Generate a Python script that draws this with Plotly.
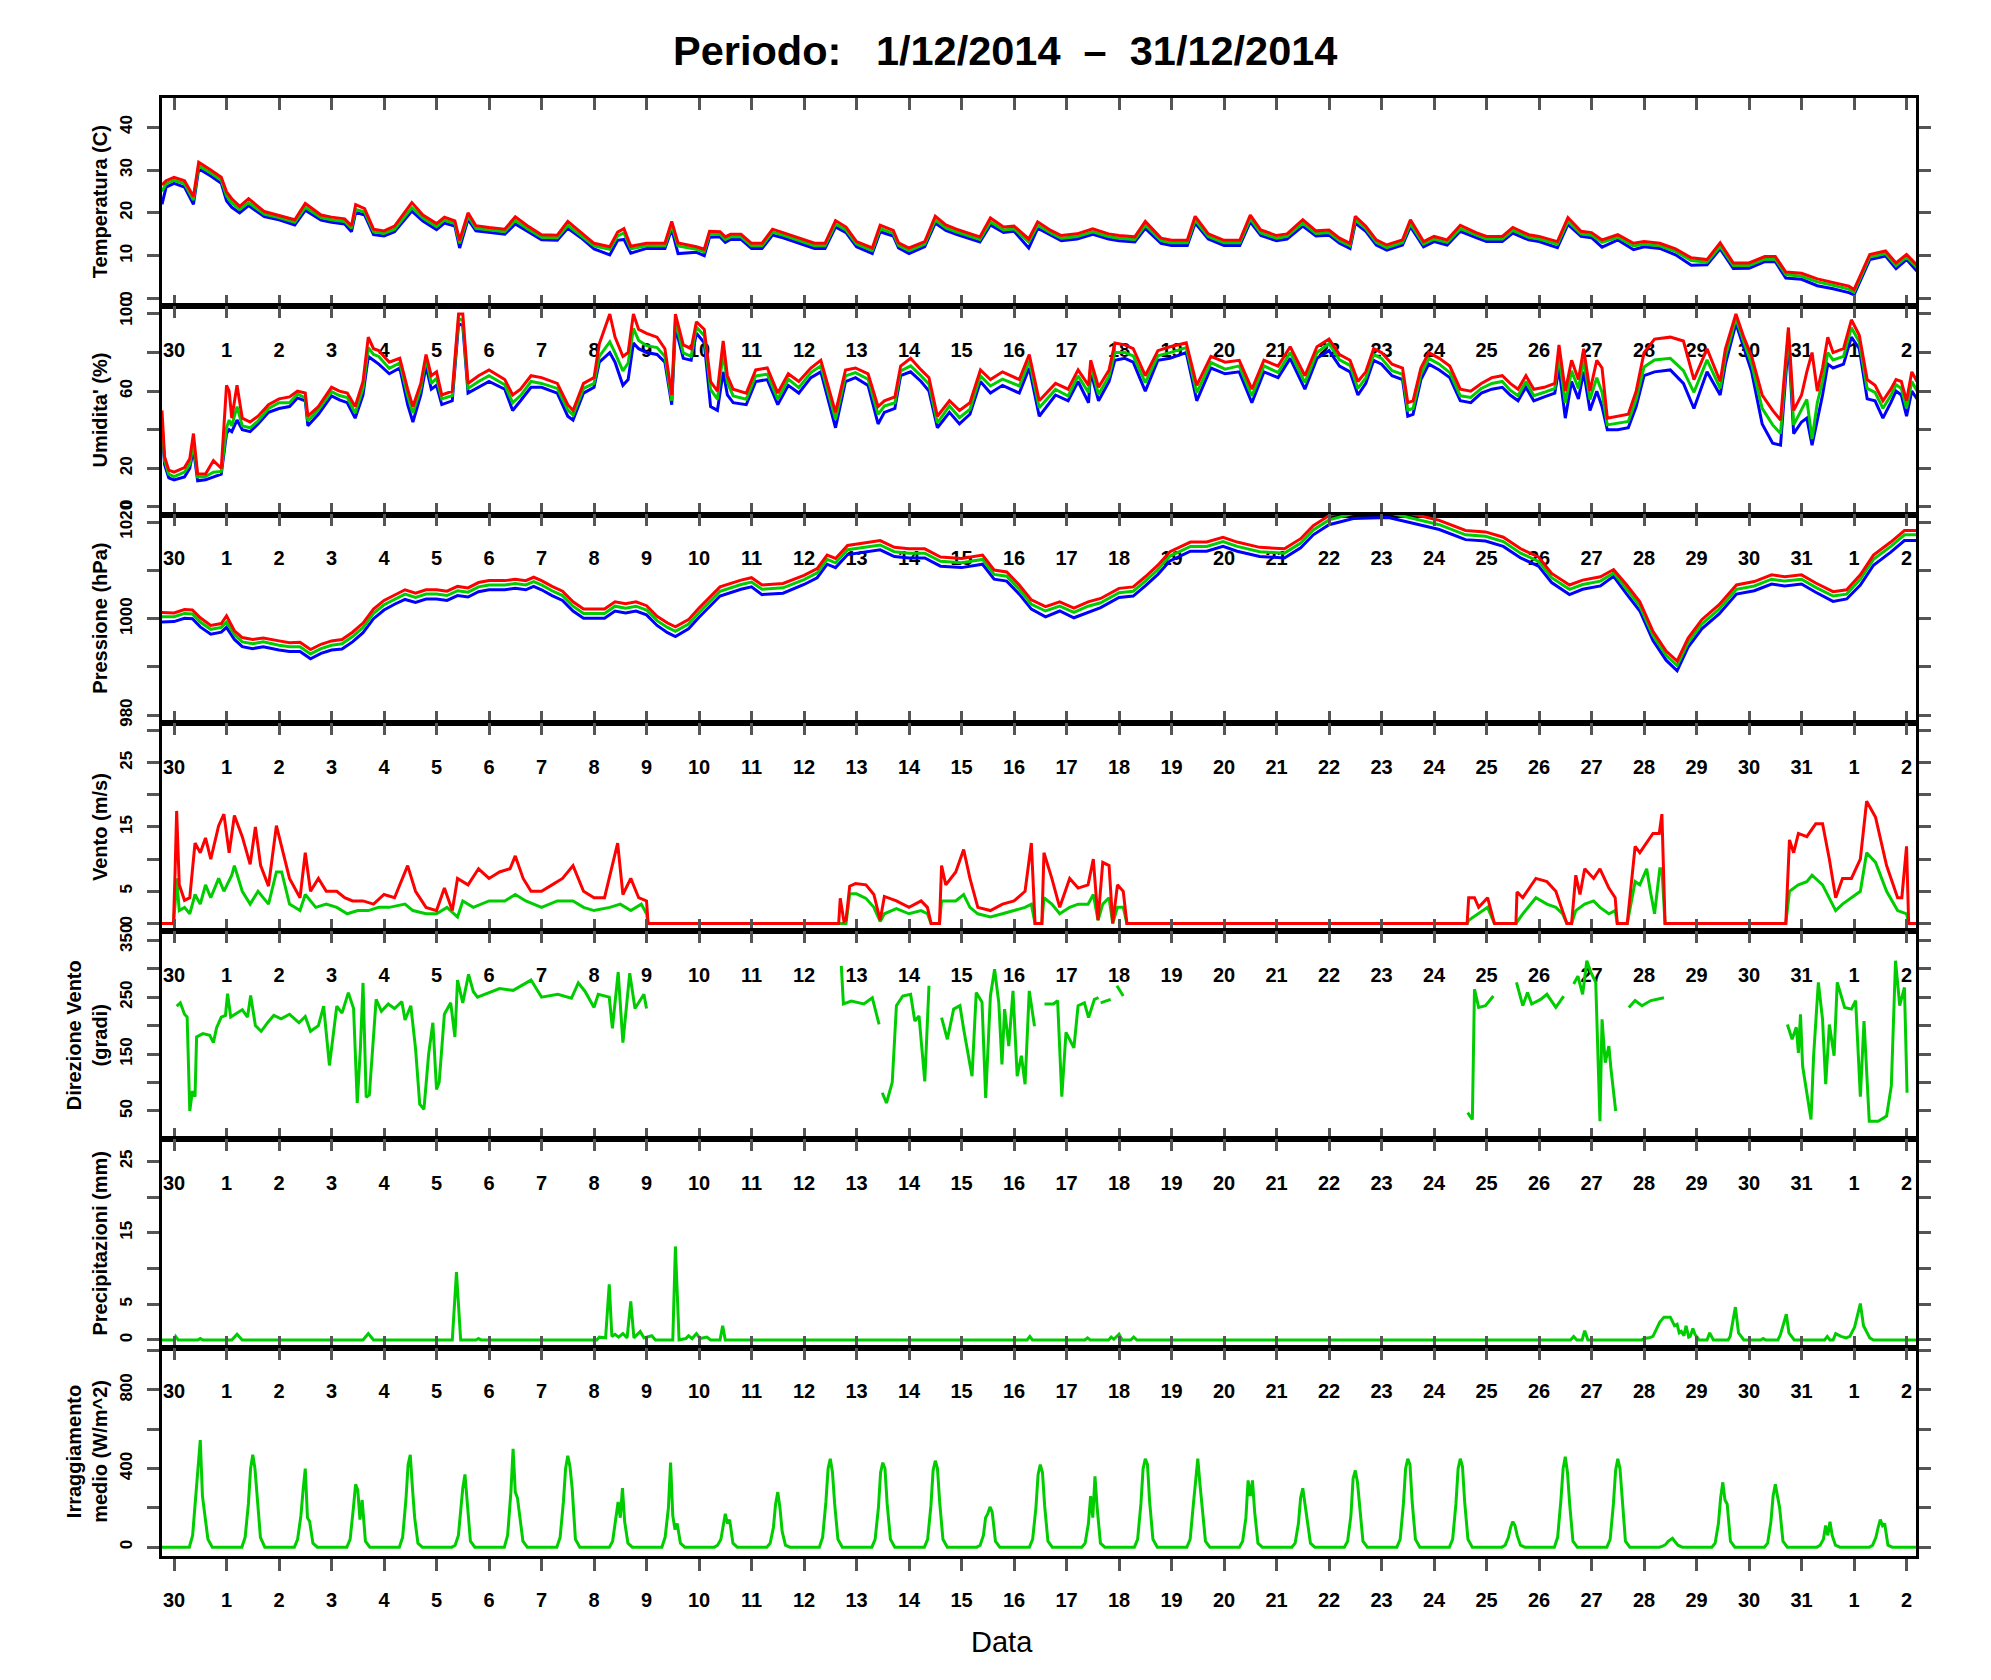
import plotly.graph_objects as go

# ---------------- data ----------------
# x is in days from 30 Nov 00:00 (tick "30"); ticks are day boundaries
day_ticks = list(range(34))
day_labels = ["30"] + [str(d) for d in range(1, 32)] + ["1", "2"]

temp_t = [-0.23,-0.15,0.0,0.2,0.37,0.47,0.7,0.9,1.0,1.1,1.25,1.42,1.72,2.0,2.3,2.5,2.8,3.0,3.25,3.38,3.46,3.63,3.8,4.0,4.2,4.53,4.74,5.0,5.15,5.35,5.44,5.6,5.75,6.0,6.3,6.5,6.73,7.0,7.3,7.5,7.75,8.0,8.3,8.45,8.57,8.7,9.0,9.35,9.48,9.6,9.95,10.1,10.2,10.4,10.5,10.6,10.8,11.0,11.2,11.4,11.6,11.9,12.2,12.4,12.6,12.8,13.0,13.3,13.45,13.7,13.8,14.0,14.3,14.5,14.7,14.9,15.2,15.35,15.55,15.8,16.0,16.28,16.45,16.7,16.9,17.2,17.5,17.8,18.0,18.3,18.5,18.8,19.0,19.3,19.45,19.7,20.0,20.3,20.5,20.7,21.0,21.2,21.5,21.75,22.0,22.2,22.4,22.5,22.7,22.9,23.1,23.4,23.55,23.8,24.0,24.25,24.5,24.8,25.0,25.3,25.5,25.8,26.0,26.35,26.55,26.8,27.0,27.2,27.5,27.8,28.0,28.3,28.6,28.9,29.2,29.45,29.7,30.0,30.3,30.5,30.7,31.0,31.3,31.6,31.9,32.0,32.2,32.3,32.6,32.8,33.0,33.2]
temp_g = [25.0,26.8,27.6,26.8,23.0,31.0,29.3,27.6,24.0,22.3,20.8,22.4,19.7,18.9,17.8,21.3,18.9,18.4,18.0,16.4,20.8,20.2,15.6,15.2,16.2,21.2,18.8,16.8,18.3,17.5,12.9,19.2,16.4,16.0,15.6,18.2,16.3,14.3,14.2,17.1,14.8,12.3,11.5,14.6,15.3,11.6,12.3,12.3,17.0,12.3,11.5,10.9,15.0,15.0,13.8,14.4,14.4,12.3,12.3,15.5,14.8,13.5,12.3,12.3,17.4,16.0,12.7,11.2,16.3,15.2,12.4,11.2,12.7,18.3,16.5,15.6,14.5,13.8,17.9,16.0,16.3,13.2,17.1,15.3,14.1,14.5,15.6,14.5,14.1,13.8,17.1,13.5,13.0,13.0,18.3,14.5,13.0,13.0,18.6,15.3,14.1,14.5,17.6,15.2,15.4,13.5,12.3,18.3,16.3,13.1,11.9,13.1,17.5,12.7,13.9,13.1,16.3,14.8,13.9,13.9,15.9,14.3,13.9,12.7,18.0,15.1,14.8,13.1,14.3,12.3,12.7,12.3,11.0,8.9,8.5,12.2,7.7,7.7,9.2,9.2,5.6,5.2,3.9,3.1,2.2,1.5,7.2,9.7,10.5,7.7,9.7,7.2]
temp_r = [26.5,27.5,28.3,27.5,23.8,31.8,30.0,28.3,24.9,23.3,21.5,23.3,20.3,19.4,18.4,22.2,19.5,19.0,18.6,17.0,21.9,21.0,16.2,15.8,16.9,22.4,19.5,17.5,19.0,18.1,13.6,20.0,17.0,16.6,16.2,19.1,17.0,14.9,14.8,18.0,15.4,12.9,12.1,15.5,16.3,12.2,12.9,12.9,18.0,13.0,12.1,11.5,15.7,15.6,14.4,15.0,15.0,12.9,12.9,16.2,15.4,14.1,12.9,12.9,18.2,16.7,13.3,11.8,17.1,15.9,13.0,11.8,13.3,19.2,17.2,16.2,15.1,14.4,18.8,16.7,16.9,13.9,17.9,15.9,14.7,15.1,16.3,15.1,14.7,14.4,18.0,14.1,13.6,13.6,19.2,15.1,13.6,13.6,19.5,16.0,14.7,15.1,18.4,15.8,16.0,14.1,12.9,19.2,16.9,13.7,12.5,13.7,18.4,13.3,14.5,13.7,17.1,15.4,14.5,14.5,16.6,14.9,14.5,13.3,18.9,15.7,15.4,13.7,14.9,12.9,13.3,12.9,11.6,9.5,9.1,13.0,8.3,8.3,9.8,9.8,6.2,5.9,4.6,3.8,2.9,2.1,7.8,10.3,11.1,8.3,10.3,7.8]
temp_b = [22.0,26.0,26.9,26.0,22.0,30.3,28.6,26.9,22.8,21.3,20.0,21.7,19.1,18.4,17.2,20.6,18.3,17.8,17.4,15.6,20.1,19.5,14.9,14.6,15.6,20.4,18.1,16.1,17.6,16.9,11.8,18.5,15.8,15.4,15.0,17.4,15.7,13.7,13.6,16.4,14.2,11.6,10.2,13.6,13.8,10.6,11.7,11.7,16.2,10.5,10.8,10.0,14.3,14.4,13.1,13.8,13.8,11.7,11.7,14.8,14.2,12.9,11.7,11.7,16.7,15.4,12.1,10.5,15.6,14.6,11.8,10.5,12.1,17.6,15.9,15.0,13.9,13.2,17.2,15.4,15.7,11.8,16.4,14.7,13.5,13.9,15.0,13.9,13.5,13.2,16.4,12.9,12.4,12.4,17.6,13.9,12.4,12.4,17.9,14.7,13.5,13.9,16.9,14.6,14.8,12.9,11.7,17.6,15.7,12.5,11.3,12.5,16.8,12.1,13.3,12.5,15.7,14.2,13.3,13.3,15.3,13.7,13.3,11.9,17.3,14.5,14.2,12.0,13.7,11.4,12.1,11.7,10.2,7.8,7.9,11.6,7.0,7.1,8.6,8.6,4.8,4.5,3.0,2.3,1.4,0.9,6.5,9.1,9.9,7.0,9.1,6.4]

hum_t = [-0.23,-0.18,-0.1,0.0,0.2,0.3,0.37,0.45,0.6,0.75,0.9,1.0,1.05,1.1,1.2,1.3,1.45,1.6,1.8,2.0,2.2,2.35,2.5,2.55,2.75,3.0,3.15,3.3,3.45,3.6,3.7,3.8,3.9,4.1,4.3,4.45,4.55,4.7,4.8,4.9,5.0,5.1,5.3,5.42,5.5,5.6,5.8,6.0,6.3,6.45,6.6,6.8,7.0,7.3,7.5,7.6,7.8,8.0,8.1,8.3,8.4,8.55,8.65,8.75,8.85,9.0,9.2,9.35,9.48,9.55,9.7,9.85,9.95,10.1,10.22,10.35,10.46,10.54,10.65,10.9,11.08,11.3,11.5,11.7,11.9,12.13,12.32,12.52,12.6,12.79,12.98,13.22,13.41,13.53,13.73,13.84,14.03,14.23,14.38,14.54,14.77,14.96,15.16,15.36,15.55,15.78,16.1,16.29,16.48,16.79,17.03,17.22,17.42,17.46,17.61,17.81,17.92,18.11,18.27,18.5,18.74,18.97,19.28,19.48,19.75,20.02,20.29,20.53,20.76,21.03,21.26,21.54,21.77,22.0,22.2,22.4,22.55,22.7,22.85,23.0,23.2,23.4,23.5,23.6,23.75,23.9,24.1,24.3,24.5,24.7,24.9,25.1,25.3,25.45,25.6,25.75,25.9,26.1,26.3,26.38,26.5,26.62,26.75,26.85,26.97,27.1,27.2,27.3,27.5,27.7,27.85,28.0,28.2,28.5,28.75,28.95,29.2,29.45,29.55,29.75,29.9,30.05,30.25,30.45,30.6,30.75,30.85,31.0,31.1,31.2,31.3,31.4,31.5,31.6,31.8,31.95,32.1,32.25,32.4,32.55,32.7,32.8,32.9,33.0,33.1,33.2]
hum_g = [45,24,17,15.7,18,22,33,15.5,15.7,18,18.4,41,45,42,52,42,41,44.5,51,54,54,58.6,56.5,44.5,50.3,59.7,57.7,56.7,48.6,61.4,82.6,79,78,71.8,74.6,57.7,48.6,61.4,77.2,64,66.7,56,57.7,97.6,96.6,61.4,65,68,63.3,54,57.7,65,64,61.4,50.3,47.6,61.4,64,78,85.5,79.8,70.5,74.6,92.5,86.3,83.6,82.6,78,55,96.6,79.8,78,93.3,88.7,60.9,55.8,80,64.4,57.5,55.8,67.9,68.8,55.8,66.2,61.8,69.6,73.1,52.3,45.4,67.9,69.6,66.2,48,52.3,54,70.5,73.1,67.9,63.6,43.6,52.3,46.3,50.6,67.9,62.7,66.2,62.7,75.7,51.4,60.9,57.5,67.9,59.2,73.1,58.4,67.9,80,80,78.3,64.4,78.3,80,82.6,59.2,74.8,71.4,73.1,57.5,73.1,69.6,80,64.4,80,84.6,76.2,73.4,61.4,66.9,79,77,70.6,68.7,50.2,51,68.7,77,74,69.6,57.6,56.7,61.4,64,65,60.5,57.6,65,57.6,59.4,61.4,78,53.9,70.6,61.4,76.2,55.7,67,59.4,42.5,43.4,44.3,55.7,72.5,76.2,77,70.6,59.4,76.2,61.4,78,97.6,85.5,74,51.1,42.5,38,91,42.5,50.2,55.7,35.2,54,65,80,76.2,78,92.9,85.5,61.4,59.4,51.1,57.7,63.3,61.4,51.1,65,60]
hum_r = [50,26,19,18,20.4,25,38,17,17,24,20,63,60,46,63,46,44,47,53,56,57,60,59,47,52,62,60,59,52,65,88,82,81,75,77,61,52,64,79,68,70,58,60,100,100,64,68,71,66,58,61,68,67,64,53,50,64,67,84.5,100,88,78,80,100,92,90,88,82,58,100,84,82,96,92,65,60,86,68,61,59,71,72,59,69,65,72,76,56,49,71,72,69,52,55,57,73,77,71,67,47,55,50,54,71,66,70,66,79,55,64,61,71,63,76,62,71,85,84,82,68,81,83,85,63,78,75,76,61,76,73,83,68,83,87,79,76,65,70,82,80,74,72,54,55,72,80,77,73,61,60,64,67,68,64,61,68,61,62,64,84,60,76,66,82,60,76,72,46,47,48,60,80,87,88,86,66,82,65,82,100,88,78,58,50,45,93,50,58,70,80,60,72,88,80,82,97,89,66,63,55,61,66,65,55,70,65]
hum_b = [42,22,15,14,15.5,20,30,13.5,14,15.5,17,38,40,39,45,40,39,43,49,51,52,56.5,55,42,48,57.5,55.5,54,46,58,78,76,74,69,72,53,44,58,73,61,63,53,55,95,94,59,62,65,61,50,55,62,62,59,47,45,59,62,75,80,75,63,66,85,82,80,79,75,53,93,77,76,90,85,52,50,70,58,54,53,65,66,53,63,59,67,70,49,41,65,67,63,43,49,51,68,70,65,60,41,49,43,48,65,59,63,59,72,47,58,55,65,54,70,55,65,76,77,75,60,76,77,80,55,72,69,70,54,70,67,77,61,77,81,73,70,58,64,76,74,68,66,47,48,66,74,71,67,55,54,59,61,62,58,55,62,55,57,59,72,46,65,56,70,50,60,52,40,40,41,52,68,70,71,64,51,70,58,74,95,82,70,43,33,32,86,38,44,46,32,45,58,74,72,74,88,82,56,55,46,54,60,58,47,60,56]

press_t = [-0.23,0.0,0.2,0.35,0.5,0.7,0.9,1.0,1.15,1.3,1.5,1.7,2.0,2.2,2.4,2.6,2.8,3.0,3.2,3.4,3.6,3.8,4.0,4.2,4.4,4.6,4.8,5.0,5.2,5.4,5.6,5.8,6.0,6.3,6.5,6.7,6.85,7.0,7.2,7.4,7.6,7.8,8.0,8.2,8.4,8.6,8.8,9.0,9.2,9.4,9.55,9.8,10.0,10.4,10.8,11.0,11.2,11.6,12.0,12.25,12.44,12.6,12.83,13.06,13.45,13.72,14.0,14.3,14.6,15.0,15.4,15.62,15.86,16.1,16.33,16.6,16.87,17.14,17.41,17.65,18.0,18.27,18.5,18.74,18.97,19.36,19.67,19.98,20.25,20.68,21.15,21.46,21.7,22.0,22.46,23.13,23.6,24.1,24.6,24.98,25.32,25.65,25.99,26.24,26.58,26.83,27.17,27.42,27.67,27.92,28.17,28.42,28.63,28.84,29.1,29.43,29.76,30.1,30.43,30.68,31.0,31.27,31.6,31.86,32.12,32.37,32.7,32.96,33.2]
press_g = [1000.4,1000.4,1001.1,1001.0,999.3,997.8,998.2,999.3,996.7,995.2,994.8,995.2,994.5,994.2,994.2,992.7,993.8,994.5,994.8,996.3,998.2,1001.1,1002.9,1004.0,1005.1,1004.4,1005.1,1005.1,1004.8,1005.8,1005.5,1006.6,1007.0,1007.0,1007.3,1007.0,1007.7,1007.0,1005.8,1004.8,1002.6,1001.1,1001.1,1001.1,1002.6,1002.2,1002.6,1001.8,999.6,998.2,997.4,998.9,1001.3,1005.7,1007.1,1007.6,1006.1,1006.4,1008.1,1009.5,1012.3,1011.6,1014.3,1014.7,1015.3,1013.9,1013.6,1013.6,1011.9,1011.6,1012.3,1009.2,1008.8,1006.1,1003.0,1001.6,1002.6,1001.3,1002.6,1003.3,1005.4,1005.7,1007.8,1010.2,1013.0,1015.0,1015.0,1016.0,1015.0,1013.9,1013.6,1015.7,1018.4,1020.5,1021.8,1022.0,1020.8,1019.5,1017.4,1017.1,1016.0,1013.6,1011.9,1008.5,1006.1,1007.1,1007.8,1009.5,1006.1,1002.6,996.5,992.4,990.3,995.1,998.9,1002.0,1006.1,1006.8,1008.2,1007.8,1008.2,1006.5,1004.7,1005.1,1008.2,1012.3,1015.0,1017.4,1017.4]
press_r = [1001.3,1001.2,1001.9,1001.8,1000.2,998.6,999.0,1000.6,997.5,996.1,995.7,996.0,995.4,995.0,995.1,993.6,994.7,995.4,995.7,997.2,999.1,1002.0,1003.8,1004.9,1006.0,1005.3,1006.0,1006.0,1005.7,1006.7,1006.4,1007.5,1007.9,1007.9,1008.2,1007.9,1008.6,1007.9,1006.7,1005.7,1003.5,1002.0,1002.0,1002.0,1003.5,1003.1,1003.5,1002.7,1000.5,999.1,998.3,999.8,1002.2,1006.6,1008.0,1008.5,1007.0,1007.3,1009.0,1010.4,1013.2,1012.5,1015.2,1015.6,1016.2,1014.8,1014.5,1014.5,1012.8,1012.5,1013.2,1010.1,1009.7,1007.0,1003.9,1002.5,1003.5,1002.2,1003.5,1004.2,1006.3,1006.6,1008.7,1011.1,1013.9,1015.9,1015.9,1016.9,1015.9,1014.8,1014.5,1016.6,1019.3,1021.4,1022.7,1022.9,1021.7,1020.4,1018.3,1018.0,1016.9,1014.5,1012.8,1009.4,1007.0,1008.0,1008.7,1010.2,1007.0,1003.5,997.4,993.3,991.2,996.0,999.8,1002.9,1007.0,1007.7,1009.1,1008.7,1009.1,1007.4,1005.6,1006.0,1009.1,1013.2,1015.9,1018.3,1018.3]
press_b = [999.3,999.4,1000.1,1000.0,998.3,996.8,997.2,998.2,995.7,994.2,993.8,994.2,993.5,993.2,993.2,991.7,992.8,993.5,993.7,995.2,997.1,1000.0,1001.8,1003.0,1004.0,1003.4,1004.1,1004.1,1003.8,1004.8,1004.5,1005.6,1006.0,1006.0,1006.3,1006.0,1006.7,1006.0,1004.8,1003.8,1001.6,1000.1,1000.1,1000.1,1001.6,1001.2,1001.6,1000.8,998.6,997.1,996.3,997.9,1000.3,1004.7,1006.1,1006.6,1005.0,1005.3,1007.1,1008.5,1011.3,1010.6,1013.3,1013.7,1014.3,1012.9,1012.6,1012.6,1010.9,1010.6,1011.3,1008.2,1007.8,1005.1,1002.0,1000.4,1001.6,1000.2,1001.4,1002.3,1004.4,1004.7,1006.8,1009.2,1012.0,1014.0,1014.0,1015.0,1014.0,1012.9,1012.6,1014.7,1017.4,1019.5,1020.8,1021.0,1019.8,1018.5,1016.4,1016.1,1015.0,1012.6,1010.9,1007.5,1005.0,1006.1,1006.8,1008.8,1005.1,1001.6,995.5,991.4,989.2,994.1,997.9,1001.0,1005.1,1005.8,1007.2,1006.8,1007.2,1005.5,1003.6,1004.1,1007.0,1011.1,1013.8,1016.2,1016.2]

gust_t = [-0.23,-0.01,0.02,0.05,0.1,0.2,0.3,0.4,0.5,0.6,0.7,0.85,0.95,1.05,1.15,1.3,1.45,1.55,1.65,1.8,1.95,2.05,2.2,2.4,2.5,2.6,2.75,2.9,3.1,3.25,3.4,3.6,3.8,4.0,4.2,4.45,4.6,4.8,5.0,5.15,5.3,5.4,5.6,5.8,6.0,6.2,6.4,6.5,6.65,6.8,7.0,7.2,7.4,7.6,7.8,8.0,8.2,8.45,8.55,8.7,8.85,9.0,9.03,12.66,12.69,12.76,12.8,12.87,12.98,13.18,13.33,13.45,13.53,13.76,14.0,14.23,14.35,14.42,14.58,14.62,14.7,14.89,15.04,15.16,15.31,15.55,15.78,16.0,16.21,16.33,16.4,16.53,16.57,16.72,16.87,17.06,17.22,17.41,17.51,17.6,17.69,17.81,17.88,17.97,18.08,18.15,24.63,24.66,24.77,24.85,25.02,25.15,25.56,25.58,25.69,25.94,26.15,26.32,26.45,26.53,26.62,26.7,26.78,26.87,27.04,27.16,27.33,27.45,27.49,27.68,27.83,27.92,28.17,28.29,28.34,28.4,30.7,30.77,30.85,30.94,31.1,31.27,31.4,31.53,31.65,31.78,31.95,32.12,32.24,32.41,32.62,32.83,32.91,33.0,33.04,33.2]
gust_v = [0,0,8,17.5,6,3.6,4,12.5,11,13.3,10,15.2,17,11,16.8,13.5,9.2,15,9,5.8,15.2,12,7,4,11,5,7,5,5,4,3.5,3.5,3,4.5,4,9,5,2.5,2,5.5,2,7,6,8.5,7,8,8.5,10.5,7,5,5,6,7,9,5,4,4,12.5,4.5,7,4,3.5,0,0,3.9,0.3,0.5,5.8,6.2,6.0,4.5,0.5,4.2,3.5,2.5,3.5,2.5,0,0,9.0,6.0,8.0,11.5,7,2.5,2.0,3.0,3.5,5,12.5,0,0,11,7,2.5,7,5.5,6,10,0.5,9.5,9,0,6,5,0,0,4,4,2.5,4,0,0,4.9,4,7,6.5,5,2,0,0,7.5,4.5,8.5,7,8.5,5.5,4,0,0,12,11,14,14,17,0,0,13,11,14,13.5,15.5,15.5,10,4,7,7,10,19,16.5,9,4,4,12,0,0]
mean_t = [-0.23,-0.01,0.02,0.05,0.1,0.2,0.3,0.4,0.5,0.6,0.7,0.85,0.95,1.1,1.15,1.3,1.45,1.6,1.8,1.95,2.05,2.2,2.4,2.5,2.7,2.9,3.1,3.3,3.5,3.7,3.9,4.1,4.4,4.55,4.8,5.0,5.2,5.4,5.5,5.7,6.0,6.3,6.5,6.7,7.0,7.3,7.6,7.8,8.0,8.3,8.5,8.7,8.9,9.0,9.03,12.8,12.87,13.0,13.18,13.33,13.45,13.53,13.76,14.0,14.23,14.35,14.42,14.58,14.62,14.89,15.04,15.16,15.31,15.55,15.78,16.0,16.21,16.33,16.4,16.53,16.57,16.72,16.87,17.06,17.22,17.41,17.51,17.6,17.69,17.81,17.88,17.97,18.08,18.15,24.63,24.66,24.85,25.02,25.15,25.56,25.69,25.94,26.15,26.32,26.45,26.53,26.62,26.7,26.87,27.04,27.16,27.33,27.45,27.49,27.68,27.83,27.92,28.05,28.12,28.2,28.3,28.34,28.4,30.7,30.77,30.94,31.1,31.2,31.4,31.53,31.65,31.78,31.95,32.12,32.24,32.41,32.62,32.83,33.0,33.04,33.2]
mean_v = [0,0,3,7,2,2.5,1.5,4.5,3,6,4,7,5,7.5,9,5,3,5,3,8,8,3,2,4.5,2.5,3,2.5,1.5,2,2,2.5,2.5,3,2,1.5,1.5,2.5,1,3.5,2.5,3.5,3.5,4.5,3.5,2.5,3.5,3.5,2.5,2,2.5,3,2,3,1.5,0,0,4.6,4.6,3.9,2.5,0.3,1.5,2.3,1.5,2.0,1.5,0,0,3.5,3.5,4.5,2.5,1.5,1.0,1.5,2.0,2.5,3.0,0,0,4.0,3.0,1.5,2.5,3.0,3.0,4.5,0.5,3.0,4.0,0,2.5,2.5,0,0,0.5,1.5,2.5,0,0,1.5,4,3,2.5,1.5,0,0,2,3,3.5,2.5,1.5,2,0,0,6.5,6,8.5,5,1.5,8.5,8.5,0,0,5,6,6.5,7.5,6,4,2,3,4,5,11,9.5,5,2,1.5,0,0]

dir_t = [0.05,0.12,0.2,0.25,0.3,0.35,0.4,0.43,0.55,0.68,0.75,0.81,0.9,0.98,1.02,1.08,1.2,1.3,1.4,1.46,1.55,1.66,1.79,1.9,2.04,2.2,2.38,2.5,2.6,2.75,2.85,2.96,3.1,3.2,3.32,3.42,3.49,3.55,3.6,3.66,3.72,3.78,3.85,3.95,4.08,4.2,4.34,4.4,4.51,4.6,4.68,4.76,4.85,4.93,5.0,5.05,5.15,5.27,5.35,5.4,5.5,5.61,5.7,5.78,6.04,6.2,6.46,6.6,6.8,7.0,7.31,7.57,7.7,7.83,8.0,8.08,8.29,8.35,8.46,8.55,8.68,8.78,8.85,8.95,9.0,None,
         12.71,12.73,12.75,12.9,13.14,13.3,13.43,None,
         13.49,13.57,13.68,13.76,13.88,14.03,14.11,14.19,14.3,14.38,None,
         14.62,14.73,14.85,14.97,15.04,15.2,15.28,15.39,15.46,15.55,15.63,15.71,15.77,15.82,15.9,15.98,16.06,16.14,16.21,16.29,16.39,None,
         16.58,16.75,16.83,16.91,16.99,17.14,17.22,17.34,17.42,17.53,17.61,None,
         17.65,17.84,None,17.96,18.08,None,
         24.64,24.73,24.77,24.85,24.98,25.13,None,
         25.57,25.69,25.78,25.86,26.03,26.15,26.32,26.47,None,
         26.66,26.74,26.83,26.91,26.99,27.08,27.16,27.2,27.26,27.33,27.37,27.46,None,
         27.71,27.83,27.96,28.13,28.38,None,
         30.73,30.82,30.9,30.94,30.98,31.02,31.18,31.23,31.32,31.4,31.46,31.53,31.62,31.68,31.82,31.95,32.03,32.12,32.19,32.29,32.46,32.62,32.71,32.79,32.87,32.96,33.01]
dir_v = [234,240,220,215,50,85,75,180,186,183,170,196,215,218,256,215,222,228,215,253,200,190,206,218,212,220,205,216,190,200,234,130,234,222,258,230,64,160,275,74,78,160,246,225,238,230,242,210,235,160,62,53,150,205,88,100,220,240,180,280,240,290,260,250,260,265,262,270,280,250,255,248,275,260,232,255,250,195,294,170,292,230,240,255,230,None,
         305,260,238,243,238,249,202,None,
         82,64,100,235,252,255,208,217,102,270,None,
         214,176,229,235,194,111,258,241,73,252,299,240,132,229,164,261,111,147,97,261,199,None,
         238,238,244,75,188,161,235,240,214,246,249,None,
         240,246,None,270,252,None,
         47,35,264,232,235,252,None,
         276,235,258,238,246,255,232,252,None,
         273,287,255,314,293,276,32,211,135,164,124,50,None,
         232,244,235,244,249,None,
         202,176,197,152,220,129,35,147,276,211,97,202,147,276,232,229,244,75,208,32,32,41,94,314,235,267,82]

precip_t = [-0.23,0.0,0.03,0.08,0.45,0.5,0.55,1.1,1.2,1.3,3.6,3.7,3.8,5.3,5.38,5.46,5.75,5.8,5.85,8.05,8.1,8.22,8.29,8.34,8.4,8.47,8.55,8.63,8.7,8.76,8.88,8.95,9.1,9.17,9.5,9.55,9.62,9.75,9.8,9.87,9.95,10.02,10.15,10.22,10.4,10.45,10.5,16.25,16.3,16.35,17.35,17.4,17.45,17.8,17.85,17.9,18.0,18.06,18.22,18.28,18.34,26.6,26.66,26.72,26.82,26.87,26.93,27.95,28.0,28.1,28.17,28.3,28.38,28.5,28.58,28.63,28.67,28.71,28.76,28.8,28.85,28.88,28.93,28.97,29.05,29.2,29.25,29.32,29.6,29.64,29.74,29.8,29.85,29.9,30.22,30.27,30.32,30.55,30.6,30.71,30.76,30.81,30.86,31.44,31.49,31.54,31.6,31.65,31.75,31.85,31.92,32.01,32.12,32.18,32.24,32.3,32.37,33.2]
precip_v = [0,0,0.5,0,0,0.2,0,0,0.8,0,0,0.9,0,0,9.5,0,0,0.2,0,0,0.4,0.3,7.8,0.5,0.8,0.4,0.9,0.3,5.4,0.3,1.2,0.3,0.6,0,0,13.1,0,0.2,0.6,0.2,0.9,0.2,0.4,0,0,2.0,0,0,0.5,0,0,0.3,0,0,0.4,0.1,0.8,0,0,0.4,0,0,0.5,0,0,1.3,0,0,0.2,0.3,0.5,2.5,3.2,3.2,2.0,2.2,1.0,1.2,0.6,2.0,0.4,0.5,1.6,0.8,0,0,1.0,0,0,0.5,4.6,1.0,0.5,0,0,0.2,0,0,0.8,3.6,1.0,0.4,0,0,0.5,0,0,0.9,0.5,0.3,0.5,1.8,5.1,2.0,1.2,0.3,0,0]

# irradiance: one row per day (29 Nov .. 2 Jan), values at the listed hours
irr_hours = [7, 8.5, 10, 11, 12, 13, 14, 15.5, 17.5]
irr_days = list(range(-1, 34))
irr_vals = [
    [0, 0, 0, 0, 0, 0, 0, 0, 0],
    [0, 60, 250, 420, 545, 260, 180, 40, 0],
    [0, 50, 220, 400, 470, 400, 260, 50, 0],
    [0, 40, 160, 290, 400, 150, 130, 20, 0],
    [0, 40, 200, 320, 290, 140, 240, 30, 0],
    [0, 50, 240, 420, 470, 300, 150, 20, 0],
    [0, 10, 60, 180, 300, 370, 250, 30, 0],
    [0, 60, 280, 500, 280, 250, 150, 30, 0],
    [0, 50, 230, 400, 465, 410, 300, 40, 0],
    [0, 30, 150, 230, 150, 300, 130, 20, 0],
    [0, 50, 200, 430, 160, 90, 120, 20, 0],
    [0, 10, 40, 100, 170, 120, 140, 20, 0],
    [0, 20, 100, 220, 280, 200, 80, 10, 0],
    [0, 50, 230, 400, 450, 380, 220, 40, 0],
    [0, 40, 200, 380, 430, 400, 220, 40, 0],
    [0, 40, 210, 390, 440, 400, 230, 40, 0],
    [0, 10, 60, 150, 170, 205, 180, 30, 0],
    [0, 40, 200, 370, 420, 380, 210, 30, 0],
    [0, 20, 120, 260, 150, 360, 200, 20, 0],
    [0, 40, 220, 400, 450, 420, 230, 40, 0],
    [0, 40, 220, 330, 450, 320, 200, 30, 0],
    [0, 30, 150, 340, 260, 340, 180, 20, 0],
    [0, 20, 120, 250, 300, 220, 150, 20, 0],
    [0, 30, 160, 350, 390, 330, 200, 30, 0],
    [0, 40, 220, 400, 450, 420, 230, 40, 0],
    [0, 40, 220, 400, 450, 410, 230, 40, 0],
    [0, 10, 50, 100, 130, 110, 60, 10, 0],
    [0, 50, 240, 400, 460, 380, 220, 30, 0],
    [0, 40, 220, 390, 450, 400, 230, 30, 0],
    [0, 5, 15, 30, 40, 45, 30, 10, 0],
    [0, 20, 120, 250, 330, 240, 220, 30, 0],
    [0, 20, 130, 260, 320, 250, 200, 30, 0],
    [0, 10, 40, 110, 60, 130, 60, 10, 0],
    [0, 10, 50, 100, 140, 110, 120, 10, 0],
    [0, 0, 0, 0, 0, 0, 0, 0, 0],
]

# ---------------- checks ----------------
def _chk(name, *arrs):
    n = len(arrs[0])
    for a in arrs:
        if len(a) != n:
            raise ValueError(f"{name}: length mismatch {[len(x) for x in arrs]}")
_chk("temp", temp_t, temp_g, temp_r, temp_b)
_chk("hum", hum_t, hum_g, hum_r, hum_b)
_chk("press", press_t, press_g, press_r, press_b)
_chk("gust", gust_t, gust_v)
_chk("mean", mean_t, mean_v)
_chk("dir", dir_t, dir_v)
_chk("precip", precip_t, precip_v)
_chk("irr", irr_days, irr_vals)

irr_x, irr_y = [], []
for d, row in zip(irr_days, irr_vals):
    for h, v in zip(irr_hours, row):
        irr_x.append(d + h / 24.0)
        irr_y.append(v)

# ---------------- figure ----------------
RED, GREEN, BLUE = "#FF0000", "#00CD00", "#0000FF"
FONT = "Liberation Sans, Arial, Helvetica, sans-serif"
LW = 3
W, H = 1991, 1680
ML, MR, MT, MB = 162, 75, 98, 124
NP = 7
TICKC = "#555"

fig = go.Figure()

def add(x, y, color, k):
    fig.add_trace(go.Scatter(x=x, y=y, mode="lines", line=dict(color=color, width=LW),
                             xaxis=f"x{k}", yaxis=f"y{k}", showlegend=False,
                             hoverinfo="skip"))

add(temp_t, temp_b, BLUE, 1); add(temp_t, temp_g, GREEN, 1); add(temp_t, temp_r, RED, 1)
add(hum_t, hum_b, BLUE, 2); add(hum_t, hum_g, GREEN, 2); add(hum_t, hum_r, RED, 2)
add(press_t, press_b, BLUE, 3); add(press_t, press_g, GREEN, 3); add(press_t, press_r, RED, 3)
add(mean_t, mean_v, GREEN, 4); add(gust_t, gust_v, RED, 4)
add(dir_t, dir_v, GREEN, 5)
add(precip_t, precip_v, GREEN, 6)
add(irr_x, irr_y, GREEN, 7)
# helper trace for top inward ticks of the bottom panel
fig.add_trace(go.Scatter(x=[None], y=[None], mode="lines", xaxis="x8", yaxis="y7",
                         showlegend=False, hoverinfo="skip"))

panels = [
    ("Temperatura (C)", [-1.8, 46.8], [0, 10, 20, 30, 40], ["0", "10", "20", "30", "40"]),
    ("Umidita' (%)", [-4, 104], [0, 20, 40, 60, 80, 100], ["0", "20", "", "60", "", "100"]),
    ("Pressione (hPa)", [978.4, 1021.6], [980, 990, 1000, 1010, 1020], ["980", "", "1000", "", "1020"]),
    ("Vento (m/s)", [-1.2, 31.2], [0, 5, 10, 15, 20, 25, 30], ["0", "5", "", "15", "", "25", ""]),
    ("Direzione Vento<br>(gradi)", [0, 366], [50, 100, 150, 200, 250, 300, 350],
     ["50", "", "150", "", "250", "", "350"]),
    ("Precipitazioni (mm)", [-1.08, 28.08], [0, 5, 10, 15, 20, 25], ["0", "5", "", "15", "", "25"]),
    ("Irraggiamento<br>medio (W/m^2)", [-45, 1015], [0, 200, 400, 600, 800, 1000],
     ["0", "", "400", "", "800", ""]),
]

XR = [-0.229, 33.18]
plot_w = W - ML - MR
layout = {}
annotations = []
for i, (title, yr, tv, tt) in enumerate(panels):
    k = i + 1
    dom = [1 - (i + 1) / NP, 1 - i / NP]
    last = (k == NP)
    layout[f"xaxis{k}"] = dict(
        domain=[0, 1], anchor=f"y{k}", range=XR,
        tickmode="array", tickvals=day_ticks, ticktext=day_labels,
        ticks="outside" if last else "inside", ticklen=12, tickwidth=2.5, tickcolor=TICKC,
        showline=True, linecolor="black", linewidth=2.5,
        mirror=True if last else "ticks",
        showgrid=False, zeroline=False,
        tickfont=dict(family=FONT, size=20, color="black", weight="bold"),
        ticklabelstandoff=24 if not last else 12,
    )
    layout[f"yaxis{k}"] = dict(
        domain=dom, anchor=f"x{k}", range=yr,
        tickmode="array", tickvals=tv, ticktext=tt,
        ticks="outside", ticklen=12, tickwidth=2.5, tickcolor=TICKC,
        showline=True, linecolor="black", linewidth=2.5, mirror="ticks",
        showgrid=False, zeroline=False, tickangle=-90,
        tickfont=dict(family=FONT, size=17, color="black", weight="bold"),
        ticklabelstandoff=8,
    )
    two = "<br>" in title
    cx = 87 if two else 100
    annotations.append(dict(
        text=title, xref="paper", yref="paper",
        x=(cx - ML) / plot_w, y=(dom[0] + dom[1]) / 2,
        xanchor="center", yanchor="middle", textangle=-90, showarrow=False,
        font=dict(family=FONT, size=20, color="black", weight="bold"),
    ))

layout["xaxis8"] = dict(
    overlaying="x7", anchor="y7", side="top", range=XR,
    tickmode="array", tickvals=day_ticks, ticks="inside", ticklen=12, tickwidth=2.5,
    tickcolor=TICKC, showticklabels=False, showline=False, showgrid=False, zeroline=False,
)

plot_h = H - MT - MB
annotations.append(dict(
    text="Periodo:\u00a0\u00a0\u00a01/12/2014\u00a0\u00a0\u2013\u00a0\u00a031/12/2014",
    xref="paper", yref="paper", x=(1005 - ML) / plot_w, y=1 + (MT - 51) / plot_h,
    xanchor="center", yanchor="middle", showarrow=False,
    font=dict(family=FONT, size=41.5, color="black", weight="bold"),
))
annotations.append(dict(
    text="Data", xref="paper", yref="paper", x=(1002 - ML) / plot_w, y=-(1642 - (H - MB)) / plot_h,
    xanchor="center", yanchor="middle", showarrow=False,
    font=dict(family=FONT, size=29, color="black"),
))

fig.update_layout(
    width=W, height=H, margin=dict(l=ML, r=MR, t=MT, b=MB, pad=0),
    paper_bgcolor="white", plot_bgcolor="white",
    showlegend=False, annotations=annotations,
    font=dict(family=FONT, color="black"),
    **layout,
)

fig.write_html("out.html", config={"displayModeBar": False},
               post_script="document.body.style.margin='0px';document.body.style.overflow='hidden';")
